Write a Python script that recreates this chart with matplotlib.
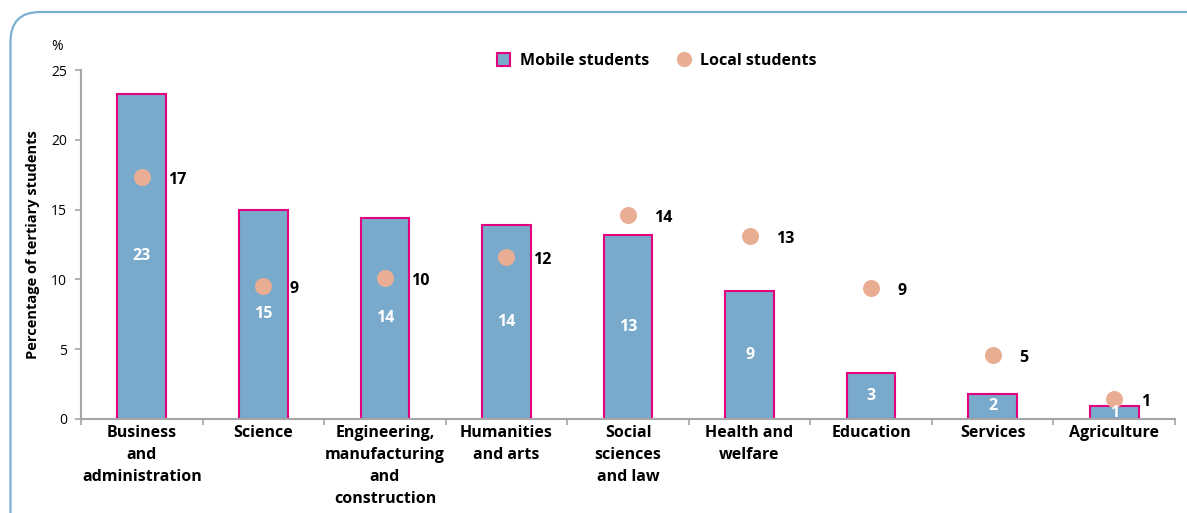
import matplotlib
matplotlib.use("Agg")
import matplotlib.pyplot as plt
from matplotlib.patches import FancyBboxPatch
from matplotlib.lines import Line2D
from matplotlib.patches import Patch

categories = ["Business\nand\nadministration", "Science", "Engineering,\nmanufacturing\nand\nconstruction",
              "Humanities\nand arts", "Social\nsciences\nand law", "Health and\nwelfare",
              "Education", "Services", "Agriculture"]
mobile = [23.3, 15.0, 14.4, 13.9, 13.2, 9.2, 3.3, 1.8, 0.9]
mobile_labels = ["23", "15", "14", "14", "13", "9", "3", "2", "1"]
local = [17.3, 9.5, 10.1, 11.6, 14.6, 13.1, 9.4, 4.6, 1.4]
local_labels = ["17", "9", "10", "12", "14", "13", "9", "5", "1"]

FONT = ["Open Sans", "DejaVu Sans"]
plt.rcParams['font.family'] = FONT

BAR = "#79aacb"
EDGE = "#e5007e"
DOT = "#e8ad93"
FRAME = "#7ab0d0"
GRAY = "#a6a6a6"

W, H = 1187, 513
fig = plt.figure(figsize=(W/100, H/100), dpi=100)

# rounded frame
frame = FancyBboxPatch((10.5/W, -40/H), (W + 40)/W, (H - 12 + 40)/H,
                       boxstyle="round,pad=0,rounding_size=0.025",
                       transform=fig.transFigure, fill=False, edgecolor=FRAME,
                       linewidth=1.6, mutation_aspect=W/H)
fig.patches.append(frame)

ax = fig.add_axes([81/W, 1 - 419/H, (1175 - 81)/W, (419 - 70)/H])
x = list(range(len(categories)))
ax.bar(x, mobile, width=0.4, color=BAR, edgecolor=EDGE, linewidth=1.5, zorder=2)
ax.scatter(x, local, s=150, color=DOT, zorder=3, linewidths=0)

for xi, v, lab in zip(x, mobile, mobile_labels):
    ax.text(xi, v / 2, lab, color="white", ha="center", va="center",
            fontsize=11.5, fontweight="bold", zorder=4)
for xi, v, lab in zip(x, local, local_labels):
    ax.annotate(lab, (xi, v), xytext=(19, -2), textcoords="offset points",
                ha="left", va="center", fontsize=11.5, fontweight="bold", color="black", zorder=4)

ax.set_xlim(-0.5, len(categories) - 0.5)
ax.set_ylim(0, 25)
ax.set_yticks([0, 5, 10, 15, 20, 25])
ax.tick_params(axis="y", labelsize=10, length=4, color=GRAY, width=1.2, pad=6)
ax.set_xticks([i - 0.5 for i in range(len(categories) + 1)])
ax.set_xticklabels([])
ax.tick_params(axis="x", length=4, color=GRAY, width=1.2)
ax.set_xticks(x, minor=True)
ax.set_xticklabels(categories, minor=True, fontsize=11.5, fontweight="bold",
                   linespacing=1.5, va="top")
ax.tick_params(axis="x", which="minor", length=0, pad=4.5)

for s in ["top", "right"]:
    ax.spines[s].set_visible(False)
for s in ["left", "bottom"]:
    ax.spines[s].set_color(GRAY)
    ax.spines[s].set_linewidth(1.5)

ax.set_ylabel("Percentage of tertiary students", fontsize=10.5, fontweight="bold", labelpad=8)
fig.text(57/W, 1 - 46/H, "%", fontsize=10, ha="center", va="center")

handles = [Patch(facecolor=BAR, edgecolor=EDGE, linewidth=1.5),
           Line2D([], [], marker="o", linestyle="none", markersize=11,
                  markerfacecolor=DOT, markeredgewidth=0)]
leg = fig.legend(handles, ["Mobile students", "Local students"], ncol=2,
                 loc="center", bbox_to_anchor=(657/W, 1 - 61/H), frameon=False,
                 prop={"weight": "bold", "size": 11.5}, handlelength=0.8, handleheight=0.8,
                 handletextpad=0.6, columnspacing=1.8)

fig.savefig("out.png", dpi=100)
